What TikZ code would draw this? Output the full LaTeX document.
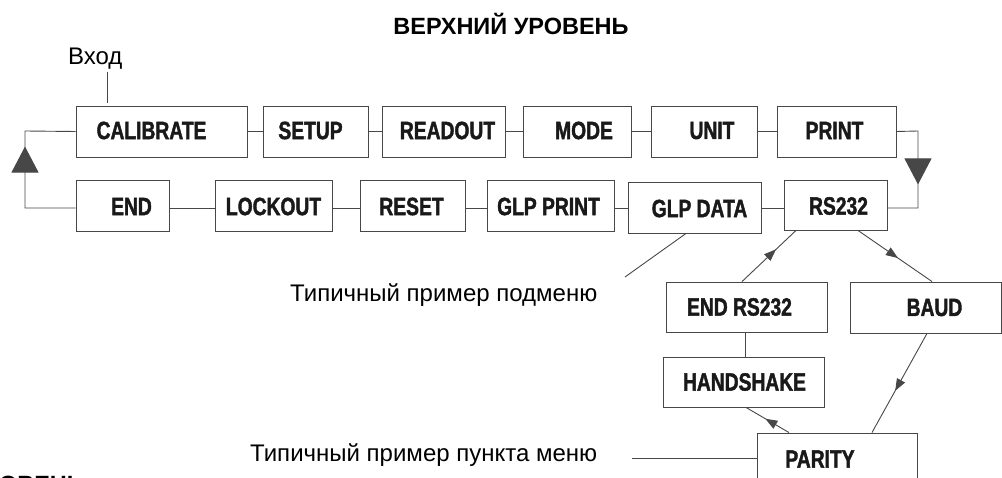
\documentclass[tikz,border=0pt]{standalone}
\usepackage{fontspec}
\setmainfont{Liberation Sans}
\newfontfamily\menufont{Liberation Sans}[FakeStretch=0.77, BoldFeatures={FakeBold=1.6}]
\usetikzlibrary{arrows.meta,decorations.markings}

\tikzset{
  ln/.style={draw=black!72, line width=0.9pt},
  menubox/.style={ln, rectangle, inner sep=0pt},
  mtext/.style={font=\menufont\bfseries\fontsize{25}{28}\selectfont, text=black!90, inner sep=0pt},
  note/.style={font=\fontsize{24}{28}\selectfont, inner sep=0pt, text=black},
  heading/.style={font=\bfseries\fontsize{23.5}{28}\selectfont, inner sep=0pt, text=black},
  midarrow/.style={postaction={decorate}, decoration={markings,
      mark=at position #1 with {\arrow{Triangle[length=12pt,width=9pt]}}}},
  bigtri/.style={postaction={decorate}, decoration={markings,
      mark=at position #1 with {\arrow{Triangle[length=26pt,width=27pt]}}}},
}

% \mitem{name}{x1}{y1}{x2}{y2}{text}{text x-offset}{text y-offset}
\newcommand\mitem[8]{%
  \node[menubox, minimum width={#4pt-#2pt}, minimum height={#5pt-#3pt},
        label={[mtext, xshift=#7pt, yshift=#8pt]center:#6}]
    (#1) at ({(#2+#4)/2},{(#3+#5)/2}) {};}

\begin{document}
\begin{tikzpicture}[x=1pt, y=-1pt]
\useasboundingbox (0,0) rectangle (1002,478);
\clip (0,0) rectangle (1002,478);

% headings and notes
\node[heading, anchor=base] (top) at (511,35) {ВЕРХНИЙ УРОВЕНЬ};
\node[heading, anchor=base east] (sub) at (84,492) {УРОВЕНЬ};
\node[note, anchor=base west] (entry) at (68,65) {Вход};
\node[note, anchor=base west] (subnote) at (290,302) {Типичный пример подменю};
\node[note, anchor=base west] (itemnote) at (250,461) {Типичный пример пункта меню};

% top level, upper row
\mitem{cal}{76}{106}{247}{157}{CALIBRATE}{-10}{1}
\mitem{setup}{263}{106}{368}{157}{SETUP}{-5}{1}
\mitem{readout}{382}{106}{505}{157}{READOUT}{4}{1}
\mitem{mode}{523}{106}{631}{157}{MODE}{7}{1}
\mitem{unit}{651}{106}{757}{157}{UNIT}{8}{1}
\mitem{print}{777}{106}{896}{157}{PRINT}{-2}{1}

% top level, lower row
\mitem{end}{76}{180}{169}{231}{END}{9}{-1}
\mitem{lock}{215}{180}{332}{231}{LOCKOUT}{0}{-1}
\mitem{reset}{360}{180}{465}{231}{RESET}{-1}{-1}
\mitem{glpp}{487}{180}{614}{231}{GLP PRINT}{-2}{-1}
\mitem{glpd}{628}{182}{761}{233}{GLP DATA}{5}{-1}
\mitem{rs}{784}{180}{887}{230}{RS232}{3}{-1}

% RS232 submenu
\mitem{endrs}{666}{282}{827}{332}{END RS232}{-7}{0}
\mitem{baud}{850}{282}{1001}{333}{BAUD}{9}{0}
\mitem{hand}{663}{357}{824}{407}{HANDSHAKE}{1}{0}
\mitem{parity}{757}{433}{917}{500}{PARITY}{-17}{7.5}

% connectors of the upper row
\draw[ln] (cal) -- (setup);
\draw[ln] (setup) -- (readout);
\draw[ln] (readout) -- (mode);
\draw[ln] (mode) -- (unit);
\draw[ln] (unit) -- (print);

% connectors of the lower row, all on one level
\coordinate (rowb) at (0,208);
\draw[ln] (end.east |- rowb) -- (lock.west |- rowb);
\draw[ln] (lock.east |- rowb) -- (reset.west |- rowb);
\draw[ln] (reset.east |- rowb) -- (glpp.west |- rowb);
\draw[ln] (glpp.east |- rowb) -- (glpd.west |- rowb);
\draw[ln] (glpd.east |- rowb) -- (rs.west |- rowb);

% loop between the two rows
\coordinate (lt) at (25,131);
\coordinate (lb) at (25,208);
\coordinate (rt) at (918,131);
\coordinate (rb) at (918,208);
\draw[ln, line join=miter, bigtri=112pt] (end.west |- rowb) -- (lb) -- (lt) -- (cal.west);
\draw[ln, line join=miter, bigtri=75pt] (print.east) -- (rt) -- (rb) -- (rs.east |- rowb);

% entry mark
\coordinate (entryfoot) at (107,72);
\draw[ln, shorten >=3pt] (entryfoot) -- (entryfoot |- cal.north);

% note leaders
\coordinate (subfoot) at (625,277);
\draw[ln] ([xshift=-8.5pt]glpd.south) -- (subfoot);
\coordinate (itemfoot) at (632,458);
\draw[ln] (itemfoot) -- (itemfoot -| parity.west);

% submenu flow
\draw[ln, midarrow=0.63] ([xshift=-4.5pt]endrs.north) -- ([xshift=-39.5pt]rs.south);
\draw[ln, midarrow=0.54] ([xshift=22.5pt]rs.south) -- ([xshift=6.5pt]baud.north);
\draw[ln, midarrow=0.58] ([xshift=1.5pt]baud.south) -- ([xshift=35pt]parity.north);
\draw[ln, midarrow=0.55] ([xshift=-48pt]parity.north) -- ([xshift=2.5pt]hand.south);
\draw[ln] ([xshift=-1.5pt]endrs.south) -- ([xshift=-1.5pt]endrs.south |- hand.north);
\end{tikzpicture}
\end{document}
